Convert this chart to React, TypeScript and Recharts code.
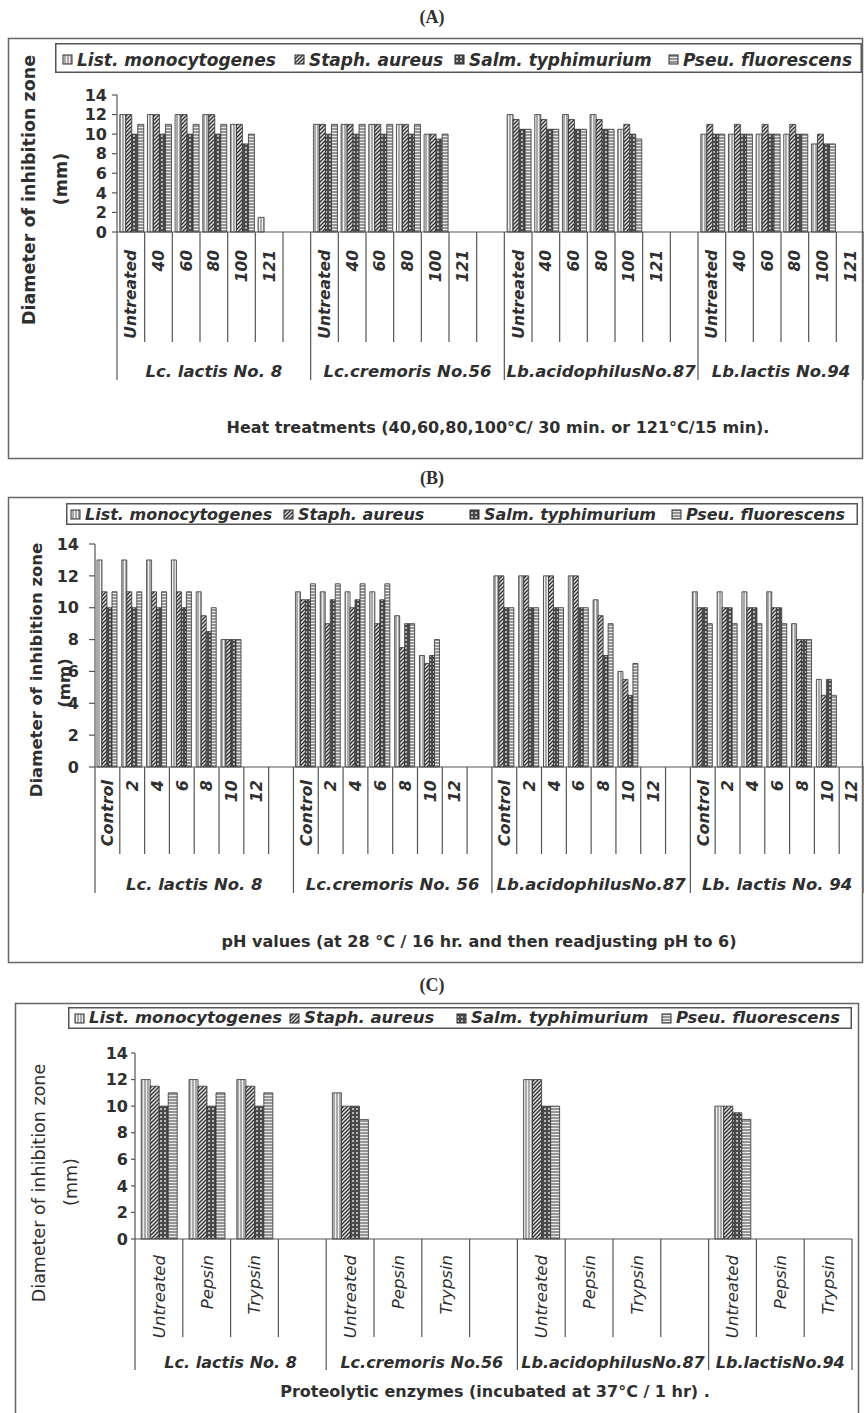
import React from 'react';
import { BarChart, Bar, XAxis, YAxis, Legend } from 'recharts';

const FONT = '"DejaVu Sans", Verdana, sans-serif';
const INK = '#2f2f2f';
const LINE = '#555';

const seriesNames = ['List. monocytogenes', 'Staph. aureus', 'Salm. typhimurium', 'Pseu. fluorescens'];
const seriesKeys = ['list', 'staph', 'salm', 'pseu'];
const patternIds = ['pList', 'pStaph', 'pSalm', 'pPseu'];
const yTicks = [0, 2, 4, 6, 8, 10, 12, 14];

// (A) heat treatments
const heatLabels = ['Untreated', '40', '60', '80', '100', '121'];
const heatStrains = ['Lc. lactis No. 8', 'Lc.cremoris No.56', 'Lb.acidophilusNo.87', 'Lb.lactis No.94'];
const heatList = [12, 12, 12, 12, 11, 1.5, 11, 11, 11, 11, 10, 0, 12, 12, 12, 12, 10.5, 0, 10, 10, 10, 10, 9, 0];
const heatStaph = [12, 12, 12, 12, 11, 0, 11, 11, 11, 11, 10, 0, 11.5, 11.5, 11.5, 11.5, 11, 0, 11, 11, 11, 11, 10, 0];
const heatSalm = [10, 10, 10, 10, 9, 0, 10, 10, 10, 10, 9.5, 0, 10.5, 10.5, 10.5, 10.5, 10, 0, 10, 10, 10, 10, 9, 0];
const heatPseu = [11, 11, 11, 11, 10, 0, 11, 11, 11, 11, 10, 0, 10.5, 10.5, 10.5, 10.5, 9.5, 0, 10, 10, 10, 10, 9, 0];

// (B) pH values
const phLabels = ['Control', '2', '4', '6', '8', '10', '12'];
const phStrains = ['Lc. lactis No. 8', 'Lc.cremoris No. 56', 'Lb.acidophilusNo.87', 'Lb. lactis No. 94'];
const phList = [13, 13, 13, 13, 11, 8, 0, 11, 11, 11, 11, 9.5, 7, 0, 12, 12, 12, 12, 10.5, 6, 0, 11, 11, 11, 11, 9, 5.5, 0];
const phStaph = [11, 11, 11, 11, 9.5, 8, 0, 10.5, 9, 10, 9, 7.5, 6.5, 0, 12, 12, 12, 12, 9.5, 5.5, 0, 10, 10, 10, 10, 8, 4.5, 0];
const phSalm = [10, 10, 10, 10, 8.5, 8, 0, 10.5, 10.5, 10.5, 10.5, 9, 7, 0, 10, 10, 10, 10, 7, 4.5, 0, 10, 10, 10, 10, 8, 5.5, 0];
const phPseu = [11, 11, 11, 11, 10, 8, 0, 11.5, 11.5, 11.5, 11.5, 9, 8, 0, 10, 10, 10, 10, 9, 6.5, 0, 9, 9, 9, 9, 8, 4.5, 0];

// (C) proteolytic enzymes
const enzLabels = ['Untreated', 'Pepsin', 'Trypsin'];
const enzStrains = ['Lc. lactis No. 8', 'Lc.cremoris No.56', 'Lb.acidophilusNo.87', 'Lb.lactisNo.94'];
const enzList = [12, 12, 12, 11, 0, 0, 12, 0, 0, 10, 0, 0];
const enzStaph = [11.5, 11.5, 11.5, 10, 0, 0, 12, 0, 0, 10, 0, 0];
const enzSalm = [10, 10, 10, 10, 0, 0, 10, 0, 0, 9.5, 0, 0];
const enzPseu = [11, 11, 11, 9, 0, 0, 10, 0, 0, 9, 0, 0];

type Row = { key: string; label: string; group: number; first: boolean; [k: string]: any };

function buildRows(labels: string[], strains: string[], values: number[][]): Row[] {
  const rows: Row[] = [];
  strains.forEach((s, g) => {
    labels.forEach((lab, i) => {
      const k = g * labels.length + i;
      const row: Row = { key: `${g}-${lab}`, label: lab, group: g, first: i === 0 };
      seriesKeys.forEach((sk, j) => (row[sk] = values[j][k]));
      rows.push(row);
    });
    if (g < strains.length - 1) rows.push({ key: `${g}-gap`, label: '', group: g, first: false });
  });
  return rows;
}

const heatRows = buildRows(heatLabels, heatStrains, [heatList, heatStaph, heatSalm, heatPseu]);
const phRows = buildRows(phLabels, phStrains, [phList, phStaph, phSalm, phPseu]);
const enzRows = buildRows(enzLabels, enzStrains, [enzList, enzStaph, enzSalm, enzPseu]);

function renderCategoryTick(props: any, cfg: any) {
  const { x, y, index } = props;
  const rows: Row[] = cfg.rows;
  const row = rows[index];
  if (!row) return <g />;
  const slot = cfg.plotW / rows.length;
  const left = x - slot / 2;
  const last = index === rows.length - 1;
  const groupSlots = cfg.perGroup + (row.group < cfg.strains.length - 1 ? 1 : 0);
  return (
    <g>
      <line x1={left} x2={left} y1={y} y2={y + (row.first ? cfg.longLen : cfg.shortLen)} stroke={LINE} strokeWidth={1.2} />
      {last && <line x1={left + slot} x2={left + slot} y1={y} y2={y + cfg.longLen} stroke={LINE} strokeWidth={1.2} />}
      {row.label && (
        <text
          transform={`translate(${x + cfg.labelFont * 0.36},${y + cfg.labelDy}) rotate(-90)`}
          textAnchor="end"
          fontFamily={FONT}
          fontSize={cfg.labelFont}
          fontStyle="italic"
          fontWeight={cfg.labelWeight}
          fill={INK}
        >
          {row.label}
        </text>
      )}
      {row.first && (
        <text x={left + (groupSlots * slot) / 2} y={y + cfg.groupDy} textAnchor="middle" fontFamily={FONT} fontSize={cfg.groupFont} fontStyle="italic" fontWeight="bold" fill={INK}>
          {cfg.strains[row.group]}
        </text>
      )}
    </g>
  );
}

function renderLegend(cfg: any) {
  return (
    <svg width={cfg.w} height={cfg.h} style={{ display: 'block' }}>
      <rect x={0.75} y={0.75} width={cfg.w - 1.5} height={cfg.h - 1.5} fill="#fff" stroke={LINE} strokeWidth={1.5} />
      {seriesNames.map((name, i) => (
        <g key={name}>
          <rect x={cfg.xs[i]} y={cfg.markerY} width={9} height={9} fill={`url(#${patternIds[i]})`} stroke={INK} strokeWidth={1} />
          <text x={cfg.xs[i] + 14} y={cfg.baseline} fontFamily={FONT} fontSize={cfg.font} fontStyle="italic" fontWeight="bold" fill={INK}>
            {name}
          </text>
        </g>
      ))}
    </svg>
  );
}

function Panel({ cfg }: { cfg: any }) {
  const plotW = cfg.width - cfg.yWidth - cfg.right;
  const tickCfg = { ...cfg.tick, rows: cfg.rows, strains: cfg.strains, perGroup: cfg.perGroup, plotW };
  return (
    <div style={{ position: 'absolute', left: cfg.left, top: cfg.top }}>
      <BarChart
        width={cfg.width}
        height={cfg.height}
        data={cfg.rows}
        margin={{ top: cfg.plotTop, right: cfg.right, left: 0, bottom: 0 }}
        barCategoryGap={cfg.catGap}
        barGap={0}
      >
        <XAxis
          dataKey="key"
          interval={0}
          height={cfg.xHeight}
          tickSize={0}
          tickMargin={0}
          tickLine={false}
          axisLine={{ stroke: LINE, strokeWidth: 1.2 }}
          tick={(p: any) => renderCategoryTick(p, tickCfg)}
        />
        <YAxis
          domain={[0, 14]}
          ticks={yTicks}
          interval={0}
          width={cfg.yWidth}
          tickSize={cfg.ySize}
          tickMargin={cfg.yMargin}
          axisLine={{ stroke: LINE, strokeWidth: 1.2 }}
          tickLine={{ stroke: LINE, strokeWidth: 1.2 }}
          tick={{ fontFamily: FONT, fontSize: 16, fontWeight: 'bold', fill: INK }}
        />
        <Legend
          layout="horizontal"
          verticalAlign="middle"
          align="center"
          wrapperStyle={{ left: cfg.legend.x, top: cfg.legend.y, width: cfg.legend.w, height: cfg.legend.h }}
          content={() => renderLegend(cfg.legend)}
        />
        {seriesKeys.map((k, i) => (
          <Bar key={k} dataKey={k} name={seriesNames[i]} fill={`url(#${patternIds[i]})`} stroke="#333" strokeWidth={0.8} isAnimationActive={false} />
        ))}
      </BarChart>
    </div>
  );
}

const panelA = {
  left: 8, top: 38, width: 856, height: 420, plotTop: 57, right: 0, yWidth: 109, xHeight: 226,
  ySize: 5, yMargin: 5, catGap: '10%', rows: heatRows, strains: heatStrains, perGroup: heatLabels.length,
  tick: { shortLen: 110, longLen: 148, labelDy: 18, groupDy: 145, labelFont: 15.5, labelWeight: 'bold', groupFont: 16.5 },
  legend: { x: 47, y: 5, w: 807, h: 30, xs: [8, 240, 400, 614], markerY: 12, baseline: 23, font: 17 },
};
const panelB = {
  left: 8, top: 498, width: 856, height: 464, plotTop: 46, right: 0, yWidth: 87, xHeight: 195,
  ySize: 6, yMargin: 10, catGap: '8%', rows: phRows, strains: phStrains, perGroup: phLabels.length,
  tick: { shortLen: 87, longLen: 126, labelDy: 13, groupDy: 123, labelFont: 16, labelWeight: 'bold', groupFont: 16.5 },
  legend: { x: 58, y: 5, w: 792, h: 22, xs: [5, 218, 404, 606], markerY: 7, baseline: 17, font: 16 },
};
const panelC = {
  left: 15, top: 1003, width: 843, height: 410, plotTop: 50, right: 6, yWidth: 120, xHeight: 174,
  ySize: 4, yMargin: 3, catGap: '13%', rows: enzRows, strains: enzStrains, perGroup: enzLabels.length,
  tick: { shortLen: 98, longLen: 131, labelDy: 16, groupDy: 129, labelFont: 16.5, labelWeight: 'normal', groupFont: 16 },
  legend: { x: 53, y: 4, w: 784, h: 22, xs: [7, 222, 389, 594], markerY: 7, baseline: 16, font: 16.5 },
};

const boldText = { fontFamily: FONT, fontWeight: 'bold' as const, fill: INK };

export default function App() {
  return (
    <div style={{ position: 'absolute', left: 0, top: 0, width: 864, height: 1413, overflow: 'hidden', background: '#fff' }}>
      <Panel cfg={panelA} />
      <Panel cfg={panelB} />
      <Panel cfg={panelC} />
      <svg width={864} height={1413} style={{ position: 'absolute', left: 0, top: 0, pointerEvents: 'none' }}>
        <defs>
          <pattern id="pList" width="3" height="3" patternUnits="userSpaceOnUse">
            <rect width="3" height="3" fill="#eeeeee" />
            <line x1="1" y1="0" x2="1" y2="3" stroke="#666" strokeWidth="1" />
          </pattern>
          <pattern id="pStaph" width="4" height="4" patternUnits="userSpaceOnUse">
            <rect width="4" height="4" fill="#dcdcdc" />
            <path d="M0,4 L4,0 M-1,1 L1,-1 M3,5 L5,3" stroke="#333" strokeWidth="1.3" />
          </pattern>
          <pattern id="pSalm" width="4" height="4" patternUnits="userSpaceOnUse">
            <rect width="4" height="4" fill="#4a4a4a" />
            <circle cx="2" cy="2" r="1" fill="#d8d8d8" />
          </pattern>
          <pattern id="pPseu" width="3" height="3" patternUnits="userSpaceOnUse">
            <rect width="3" height="3" fill="#e8e8e8" />
            <line x1="0" y1="1" x2="3" y2="1" stroke="#444" strokeWidth="1" />
          </pattern>
        </defs>

        <g fill="none" stroke="#666" strokeWidth={1.5}>
          <rect x={8.5} y={38.5} width={854} height={420} />
          <rect x={8.5} y={497.5} width={854} height={465} />
          <rect x={15.5} y={1003.5} width={843} height={420} />
        </g>

        <g fontFamily='"Liberation Serif", serif' fontWeight="bold" fontSize={18} fill={INK} textAnchor="middle">
          <text x={432} y={23}>(A)</text>
          <text x={432} y={484}>(B)</text>
          <text x={432} y={991}>(C)</text>
        </g>

        <g {...boldText} fontSize={17.5} textAnchor="middle">
          <text transform="translate(35,190) rotate(-90)">Diameter of inhibition zone</text>
          <text transform="translate(67,179) rotate(-90)">(mm)</text>
        </g>
        <g {...boldText} fontSize={16.5} textAnchor="middle">
          <text transform="translate(42,670) rotate(-90)">Diameter of inhibition zone</text>
          <text transform="translate(70,683) rotate(-90)">(mm)</text>
        </g>
        <g fontFamily={FONT} fill={INK} fontSize={17.5} textAnchor="middle">
          <text transform="translate(45,1183) rotate(-90)">Diameter of inhibition zone</text>
          <text transform="translate(77,1182) rotate(-90)">(mm)</text>
        </g>

        <g {...boldText} fontSize={16} textAnchor="middle">
          <text x={498} y={433}>Heat treatments (40,60,80,100°C/ 30 min. or 121°C/15 min).</text>
          <text x={479} y={947}>pH values (at 28 °C / 16 hr. and then readjusting pH to 6)</text>
          <text x={495} y={1397}>Proteolytic enzymes (incubated at 37°C / 1 hr) .</text>
        </g>
      </svg>
    </div>
  );
}
